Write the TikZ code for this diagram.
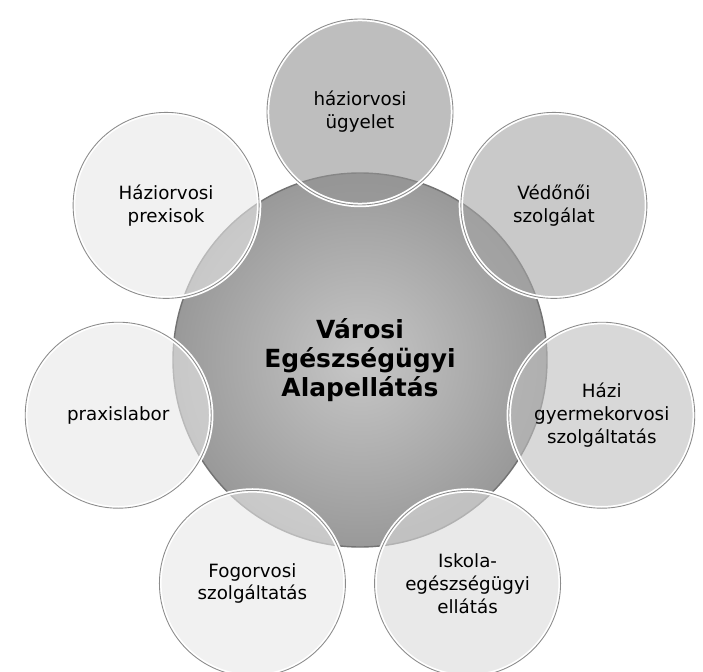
\documentclass[tikz,border=0pt]{standalone}
\usepackage{fontspec}
\setmainfont{DejaVu Sans}
\usepackage{xcolor}
\usepackage{tikz}
\usetikzlibrary{positioning}

\begin{document}
\begin{tikzpicture}[
  font=\fontsize{10.4}{13}\selectfont,
  hub/.style={
     circle, minimum size=7.48cm, inner sep=0pt,
     draw=black!55, thick,
     inner color=black!22, outer color=black!40,
     align=center,
     font=\fontsize{14.2}{16.5}\selectfont\bfseries},
  sat/.style={
     circle, minimum size=3.72cm, inner sep=0pt,
     draw=white, line width=2.5pt,
     fill opacity=0.6, text opacity=1,
     postaction={draw=black!45, line width=0.5pt},
     align=center}]
\useasboundingbox[fill=white] (-7.2,-6.22) rectangle (6.86,7.2);
% centre
\node[hub] (city) at (0,0) {Városi\\Egészségügyi\\Alapellátás};
% satellites, clockwise from the top
\foreach \ang/\nm/\shd/\txt in {
    90/ugy/42/{háziorvosi\\ügyelet},
    38.57/vedo/35/{Védőnői\\szolgálat},
    -12.86/gyerm/25/{Házi\\gyermekorvosi\\szolgáltatás},
    -64.29/iskola/14/{Iskola-\\egészségügyi\\ellátás},
    -115.71/fog/9/{Fogorvosi\\szolgáltatás},
    -167.14/labor/9/{praxislabor},
    141.43/praxis/9/{Háziorvosi\\prexisok}}
  \node[sat, fill=black!\shd] (\nm) at (\ang:4.96) {\txt};
\end{tikzpicture}
\end{document}
